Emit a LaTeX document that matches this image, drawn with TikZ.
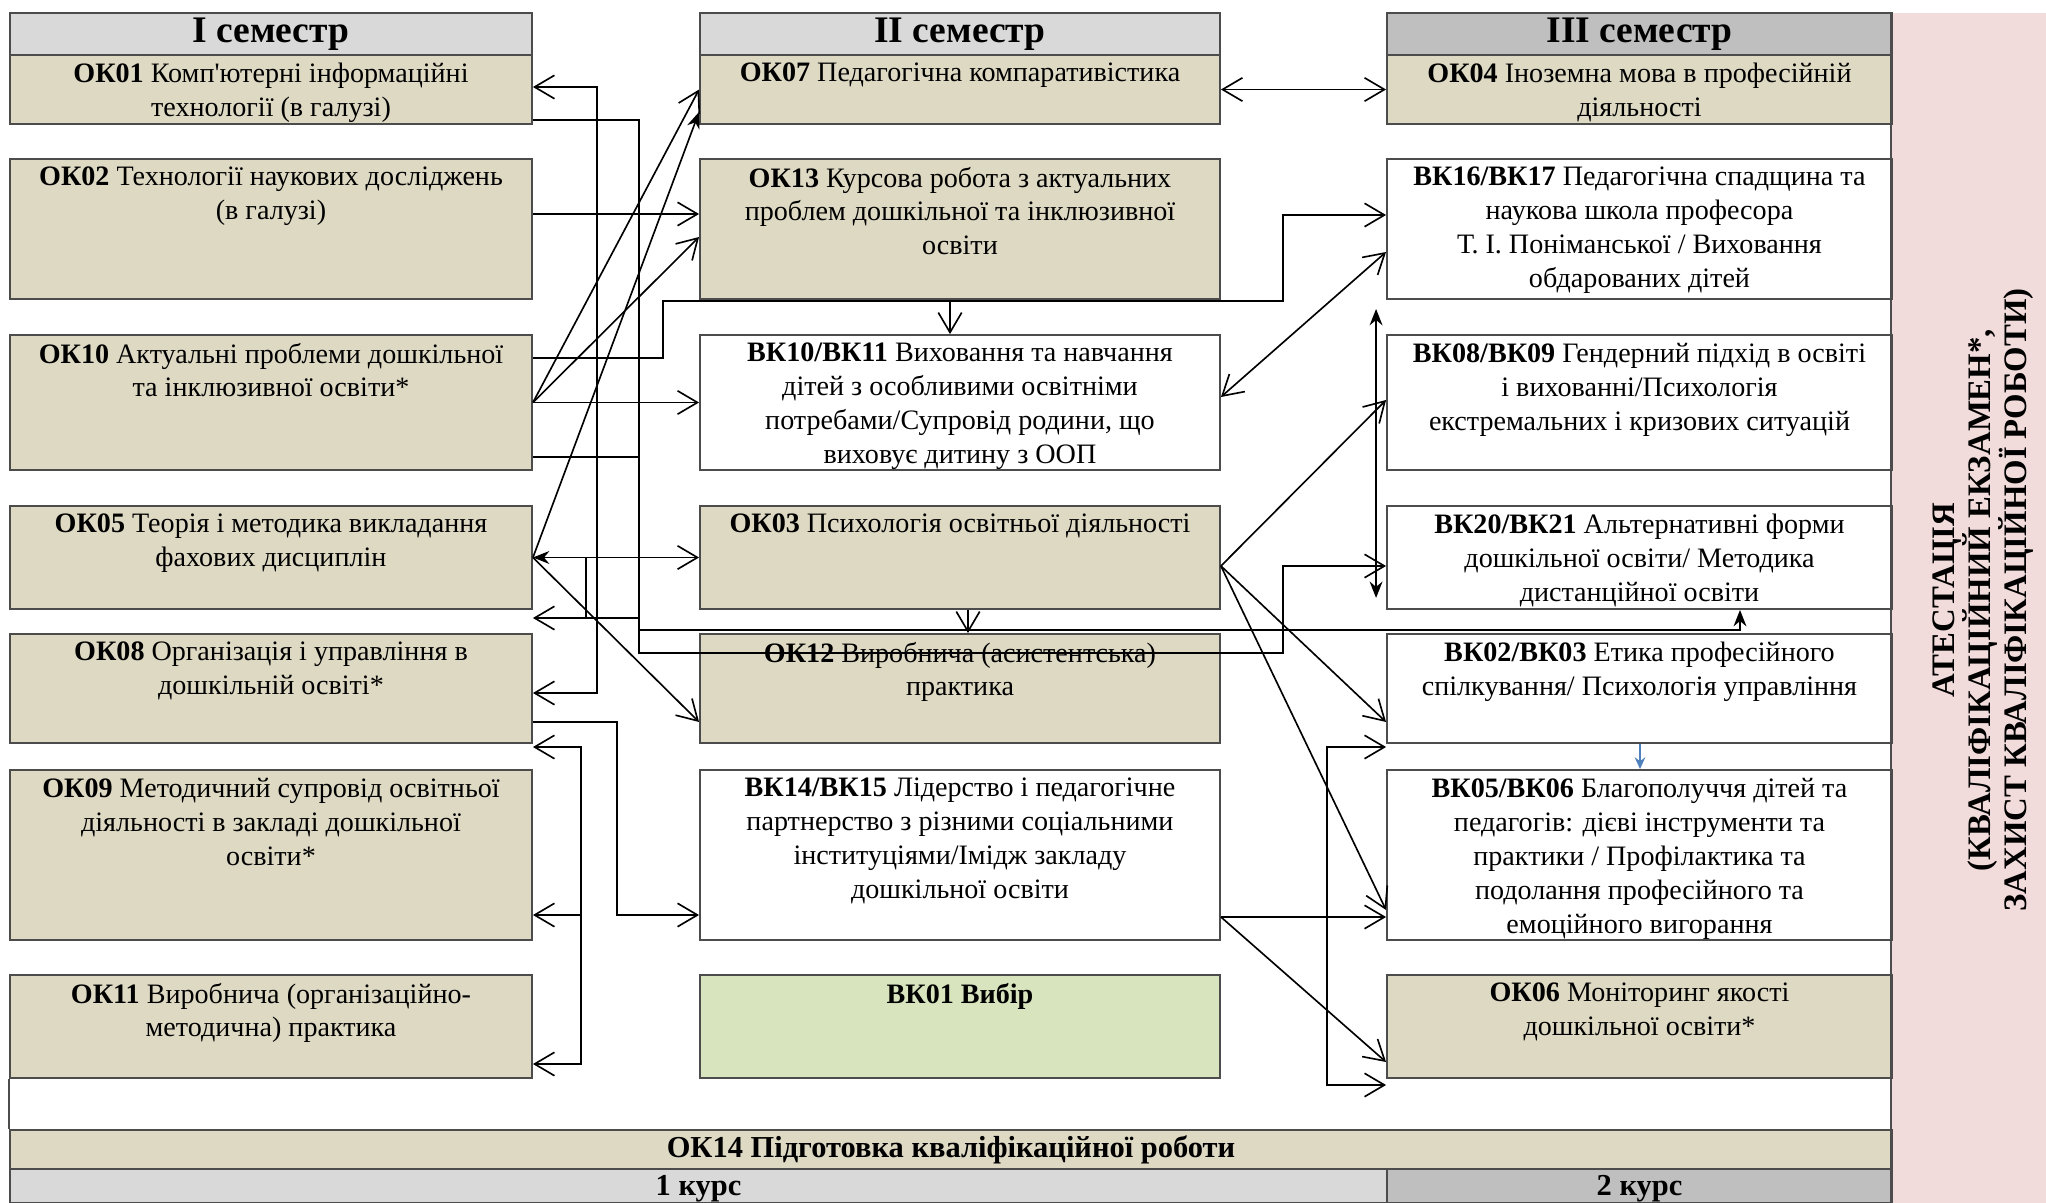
\documentclass[tikz,border=0pt]{standalone}
\usepackage{fontspec}
\setmainfont{Liberation Serif}
\newfontfamily\straightapos{Liberation Serif}[Ligatures=TeXOff]
\usetikzlibrary{positioning, arrows.meta, fit, calc}

\definecolor{semlight}{HTML}{D9D9D9}
\definecolor{semdark}{HTML}{BFBFBF}
\definecolor{okfill}{HTML}{DDD9C3}
\definecolor{vkgreen}{HTML}{D7E4BD}
\definecolor{atpink}{HTML}{F2DCDB}
\definecolor{arrblue}{HTML}{4F81BD}

\begin{document}
\begin{tikzpicture}[
        x=0.015cm, y=-0.015cm,
        >={Straight Barb[length=8.5pt,width=10pt]},
        line width=0.7pt,
        sbox/.style={draw=black!70, line width=0.8pt, inner sep=0pt},
        oblig/.style={sbox, fill=okfill},
        elect/.style={sbox, fill=white},
        vkchoice/.style={sbox, fill=vkgreen},
        semhead/.style={sbox, fill=semlight},
        headtext/.style={inner sep=0pt, font=\bfseries\fontsize{16}{18}\selectfont},
        bartext/.style={inner sep=0pt, font=\bfseries\fontsize{13}{15}\selectfont},
        subjtext/.style={anchor=north, align=center, inner sep=0pt, font=\fontsize{12}{14.5}\selectfont},
        fat/.style={-{Stealth[length=7pt,width=5.5pt]}},
    ]
    \useasboundingbox (0,0) rectangle (2046,1203);

    % Attestation panel on the right
    \node[fill=atpink, inner sep=0pt, fit={(1892,13) (2046,1203)}] (atest-bg) {};
    \node[rotate=90, align=center, font=\bfseries\fontsize{14}{15.5}\selectfont] (atest) at (1983,600)
        {АТЕСТАЦІЯ\\(КВАЛІФІКАЦІЙНИЙ ЕКЗАМЕН*,\\ЗАХИСТ КВАЛІФІКАЦІЙНОЇ РОБОТИ)};

    % Semester headers
    \node[semhead, fit={(10,13) (532,55)}] (sem1) {};
    \node[headtext] (sem1-t) at (sem1.center) {I семестр};
    \node[semhead, fit={(700,13) (1220,55)}] (sem2) {};
    \node[headtext] (sem2-t) at (sem2.center) {II семестр};
    \node[semhead, fill=semdark, fit={(1387,13) (1892,55)}] (sem3) {};
    \node[headtext] (sem3-t) at (sem3.center) {III семестр};

    % First semester
    \node[oblig, fit={(10,55) (532,124)}] (ok01) {};
    \node[subjtext] (ok01-t) at ($(ok01.north)+(0,8)$) {\textbf{ОК01} Комп{\straightapos'}ютерні інформаційні\\технології (в галузі)};
    \node[oblig, fit={(10,159) (532,299)}] (ok02) {};
    \node[subjtext] (ok02-t) at ($(ok02.north)+(0,8)$) {\textbf{ОК02} Технології наукових досліджень\\(в галузі)};
    \node[oblig, fit={(10,335) (532,470)}] (ok10) {};
    \node[subjtext] (ok10-t) at ($(ok10.north)+(0,8)$) {\textbf{ОК10} Актуальні проблеми дошкільної\\та інклюзивної освіти*};
    \node[oblig, fit={(10,506) (532,609)}] (ok05) {};
    \node[subjtext] (ok05-t) at ($(ok05.north)+(0,8)$) {\textbf{ОК05} Теорія і методика викладання\\фахових дисциплін};
    \node[oblig, fit={(10,634) (532,743)}] (ok08) {};
    \node[subjtext] (ok08-t) at ($(ok08.north)+(0,8)$) {\textbf{ОК08} Організація і управління в\\дошкільній освіті*};
    \node[oblig, fit={(10,770) (532,940)}] (ok09) {};
    \node[subjtext] (ok09-t) at ($(ok09.north)+(0,8)$) {\textbf{ОК09} Методичний супровід освітньої\\діяльності в закладі дошкільної\\освіти*};
    \node[oblig, fit={(10,975) (532,1078)}] (ok11) {};
    \node[subjtext] (ok11-t) at ($(ok11.north)+(0,8)$) {\textbf{ОК11} Виробнича (організаційно-\\методична) практика};

    % Second semester
    \node[oblig, fit={(700,55) (1220,124)}] (ok07) {};
    \node[subjtext] (ok07-t) at ($(ok07.north)+(0,8)$) {\textbf{ОК07} Педагогічна компаративістика};
    \node[oblig, fit={(700,159) (1220,299)}] (ok13) {};
    \node[subjtext] (ok13-t) at ($(ok13.north)+(0,8)$) {\textbf{ОК13} Курсова робота з актуальних\\проблем дошкільної та інклюзивної\\освіти};
    \node[elect, fit={(700,335) (1220,470)}] (vk10) {};
    \node[subjtext] (vk10-t) at ($(vk10.north)+(0,8)$) {\textbf{ВК10/ВК11} Виховання та навчання\\дітей з особливими освітніми\\потребами/Супровід родини, що\\виховує дитину з ООП};
    \node[oblig, fit={(700,506) (1220,609)}] (ok03) {};
    \node[subjtext] (ok03-t) at ($(ok03.north)+(0,8)$) {\textbf{ОК03} Психологія освітньої діяльності};
    \node[oblig, fit={(700,634) (1220,743)}] (ok12) {};
    \node[subjtext] (ok12-t) at ($(ok12.north)+(0,8)$) {\textbf{ОК12} Виробнича (асистентська)\\практика};
    \node[elect, fit={(700,770) (1220,940)}] (vk14) {};
    \node[subjtext] (vk14-t) at ($(vk14.north)+(0,8)$) {\textbf{ВК14/ВК15} Лідерство і педагогічне\\партнерство з різними соціальними\\інституціями/Імідж закладу\\дошкільної освіти};
    \node[vkchoice, fit={(700,975) (1220,1078)}] (vk01) {};
    \node[subjtext] (vk01-t) at ($(vk01.north)+(0,8)$) {\textbf{ВК01 Вибір}};

    % Third semester
    \node[oblig, fit={(1387,55) (1892,124)}] (ok04) {};
    \node[subjtext] (ok04-t) at ($(ok04.north)+(0,8)$) {\textbf{ОК04} Іноземна мова в професійній\\діяльності};
    \node[elect, fit={(1387,159) (1892,299)}] (vk16) {};
    \node[subjtext] (vk16-t) at ($(vk16.north)+(0,8)$) {\textbf{ВК16/ВК17} Педагогічна спадщина та\\наукова школа професора\\Т. І. Поніманської / Виховання\\обдарованих дітей};
    \node[elect, fit={(1387,335) (1892,470)}] (vk08) {};
    \node[subjtext] (vk08-t) at ($(vk08.north)+(0,8)$) {\textbf{ВК08/ВК09} Гендерний підхід в освіті\\і вихованні/Психологія\\екстремальних і кризових ситуацій};
    \node[elect, fit={(1387,506) (1892,609)}] (vk20) {};
    \node[subjtext] (vk20-t) at ($(vk20.north)+(0,8)$) {\textbf{ВК20/ВК21} Альтернативні форми\\дошкільної освіти/ Методика\\дистанційної освіти};
    \node[elect, fit={(1387,634) (1892,743)}] (vk02) {};
    \node[subjtext] (vk02-t) at ($(vk02.north)+(0,8)$) {\textbf{ВК02/ВК03} Етика професійного\\спілкування/ Психологія управління};
    \node[elect, fit={(1387,770) (1892,940)}] (vk05) {};
    \node[subjtext] (vk05-t) at ($(vk05.north)+(0,8)$) {\textbf{ВК05/ВК06} Благополуччя дітей та\\педагогів: дієві інструменти та\\практики / Профілактика та\\подолання професійного та\\емоційного вигорання};
    \node[oblig, fit={(1387,975) (1892,1078)}] (ok06) {};
    \node[subjtext] (ok06-t) at ($(ok06.north)+(0,8)$) {\textbf{ОК06} Моніторинг якості\\дошкільної освіти*};

    % Qualification work and the two years
    \node[oblig, fit={(10,1130) (1892,1169)}] (ok14) {};
    \node[bartext] (ok14-t) at (ok14.center) {ОК14 Підготовка кваліфікаційної роботи};
    \node[sbox, fill=semlight, fit={(10,1169) (1387,1203)}] (year1) {};
    \node[bartext] (year1-t) at ([yshift=-1pt]year1.center) {1 курс};
    \node[sbox, fill=semdark, fit={(1387,1169) (1892,1203)}] (year2) {};
    \node[bartext] (year2-t) at ([yshift=-1pt]year2.center) {2 курс};
    \draw[black!70, line width=0.8pt] (atest-bg.north west) -- (atest-bg.south west);
    \draw[black!70, line width=0.8pt] (ok11.south west) -- (ok14.north west);

    % Links from the first semester
    \draw[->] (ok02.east |- 0,214) -- (ok13.west |- 0,214);
    \draw[->] (ok10.east) -- (ok07.west);
    \draw[->] (ok10.east) -- (ok13.west |- 0,237);
    \draw[->] (ok10.east) -- (vk10.west);
    \draw[->] (ok10.east |- 0,358) -| (663,301) -| (1283,215) -- (vk16.west |- 0,215);
    \draw (ok10.east |- 0,457) -- (639,457);
    \draw[fat] (ok05.east) -- (ok07.west |- 0,112);
    \draw[->] (ok05.east) -- (ok12.west |- 0,722);
    \draw[{Stealth[length=7pt,width=5.5pt]}->] (ok05.east) -- (ok03.west);
    \draw (586,0 |- ok05.east) -- (586,618);
    \draw[->] (639,618) -- (ok05.east |- 0,618);
    \draw[<->] (ok01.east |- 0,87) -| (597,693) -- (ok08.east |- 0,693);
    \draw[->] (ok01.east |- 0,120) -| (639,653) -- (1283,653) |- (vk20.west |- 0,566);
    \draw[fat] (639,630) -| (vk20.south -| 1740,0);
    \draw[->] (ok08.east |- 0,722) -| (617,915) -- (vk14.west |- 0,915);
    \draw[<->] (ok08.east |- 0,747) -| (581,1064) -- (ok11.east |- 0,1064);
    \draw[->] (581,915) -- (ok09.east |- 0,915);

    % Links inside the second semester
    \draw[->] (ok13.south -| 950,0) -- (vk10.north -| 950,0);
    \draw[->] (ok03.south -| 968,0) -- (ok12.north -| 968,0);

    % Links to the third semester
    \draw[<->] (ok07.east) -- (ok04.west);
    \draw[<->] (vk10.east |- 0,397) -- (vk16.west |- 0,252);
    \draw[->] (ok03.east |- 0,566) -- (vk08.west |- 0,400);
    \draw[->] (ok03.east |- 0,566) -- (vk02.west |- 0,722);
    \draw[->] (ok03.east |- 0,566) -- (vk05.west |- 0,910);
    \draw[->] (vk14.east |- 0,917) -- (vk05.west |- 0,917);
    \draw[->] (vk14.east |- 0,917) -- (ok06.west |- 0,1062);
    \draw[<->] (vk02.west |- 0,747) -| (1327,1085) -- (ok06.west |- 0,1085);
    \draw[{Stealth[length=7pt,width=5.5pt]}-{Stealth[length=7pt,width=5.5pt]}] ($(vk16.south west)+(-10,9)$) -- ($(vk20.south west)+(-10,-12)$);
    \draw[arrblue, line width=1pt, -{Stealth[length=5pt,width=4.5pt]}] (vk02.south -| 1640,0) -- (vk05.north -| 1640,0);
\end{tikzpicture}
\end{document}
